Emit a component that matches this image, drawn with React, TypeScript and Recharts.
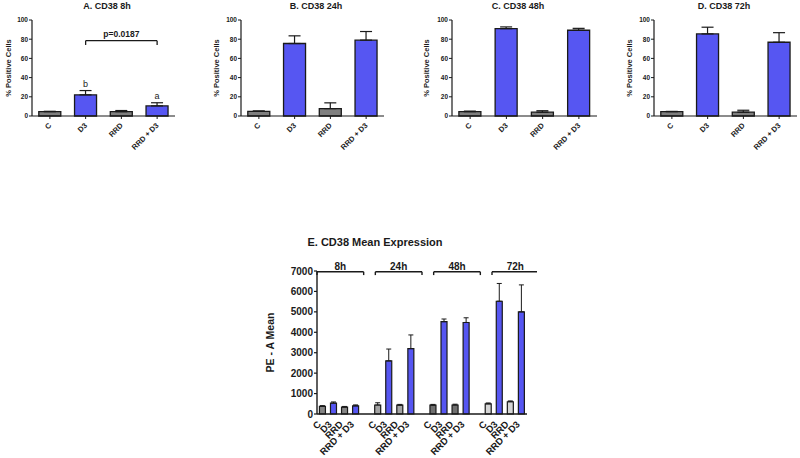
import React from 'react';
import { BarChart, Bar, XAxis, YAxis, ErrorBar, Cell, ReferenceLine, ReferenceDot } from 'recharts';

// ---------- Data ----------
const treatments = ['C', 'D3', 'RRD', 'RRD + D3'];

const pct8h = [4.5, 22, 4.5, 10.5];
const pct8hErr = [0.4, 4.5, 1.2, 3.3];
const pct24h = [4.8, 75.5, 7.7, 79];
const pct24hErr = [0.5, 8, 6, 9];
const pct48h = [4.5, 91, 4, 89.3];
const pct48hErr = [0.6, 1.8, 1.5, 2];
const pct72h = [4.5, 85.5, 4, 76.8];
const pct72hErr = [0.3, 7, 2, 10];

const annot8h = ['', 'b', '', 'a'];
const pValue8h = 'p=0.0187';
const bracket8hY = 78.5;

const pctTicks = [0, 20, 40, 60, 80, 100];

const timePoints = ['8h', '24h', '48h', '72h'];
const meanExpr = [
  [370, 530, 340, 400],
  [440, 2600, 430, 3200],
  [430, 4520, 440, 4480],
  [500, 5520, 600, 5000],
];
const meanExprErr = [
  [40, 60, 30, 45],
  [110, 580, 40, 670],
  [40, 130, 40, 230],
  [40, 870, 40, 1320],
];
const meanTicks = [0, 1000, 2000, 3000, 4000, 5000, 6000, 7000];

// ---------- Styles ----------
const FONT = '"Liberation Sans", Arial, Helvetica, sans-serif';
const BLUE = '#5656f2';
const GRAY = '#7f7f7f';
const groupGrays = ['#858585', '#a4a4a4', '#707070', '#d6d6d6'];
const INK = '#1a1a1a';

const makePctData = (vals: number[], errs: number[]) =>
  treatments.map((t, i) => ({ name: t, value: vals[i], err: [0, errs[i]] }));

const RotTick = (props: any) => {
  const { x, y, payload, fs, dx, dy } = props;
  const tx = x + dx;
  const ty = y + dy;
  return (
    <text
      x={tx}
      y={ty}
      transform={`rotate(-45 ${tx} ${ty})`}
      textAnchor="end"
      fontSize={fs}
      fontWeight="bold"
      fontFamily={FONT}
      fill={INK}
    >
      {payload.value}
    </text>
  );
};

const yLabel = (text: string, fromLeft: number, fs: number) => ({
  content: (p: any) => {
    const vb = p.viewBox || { x: 0, y: 0, width: 0, height: 0 };
    const cx = vb.x + fromLeft;
    const cy = vb.y + vb.height / 2;
    return (
      <text
        x={cx}
        y={cy}
        transform={`rotate(-90 ${cx} ${cy})`}
        textAnchor="middle"
        dominantBaseline="central"
        fontSize={fs}
        fontWeight="bold"
        fontFamily={FONT}
        fill={INK}
      >
        {text}
      </text>
    );
  },
});

type PctProps = {
  left: number;
  width: number;
  marginLeft: number;
  marginRight: number;
  title: string;
  titleCenter: number;
  vals: number[];
  errs: number[];
  annot?: string[];
  pValue?: string;
  bracketY?: number;
  labelFromLeft: number;
};

const PctChart = (p: PctProps) => {
  const data = makePctData(p.vals, p.errs);
  return (
    <>
      <div
        style={{
          position: 'absolute',
          left: p.titleCenter - 60,
          width: 120,
          top: 1,
          textAlign: 'center',
          fontFamily: FONT,
          fontWeight: 'bold',
          fontSize: 9,
          lineHeight: '11px',
          color: INK,
        }}
      >
        {p.title}
      </div>
      <div style={{ position: 'absolute', left: p.left, top: 0 }}>
        <BarChart
          width={p.width}
          height={156}
          data={data}
          margin={{ top: 20, right: p.marginRight, bottom: 4, left: p.marginLeft }}
          barCategoryGap="19%"
        >
          <YAxis
            width={22}
            domain={[0, 100]}
            ticks={pctTicks}
            interval={0}
            tickSize={3}
            tickMargin={1}
            axisLine={{ stroke: INK, strokeWidth: 1.2 }}
            tickLine={{ stroke: INK, strokeWidth: 1 }}
            tick={{ fontSize: 6.5, fontWeight: 'bold', fill: INK, fontFamily: FONT }}
            label={yLabel('% Positive Cells', p.labelFromLeft, 7.5)}
          />
          <XAxis
            dataKey="name"
            height={36}
            interval={0}
            tickSize={3}
            axisLine={{ stroke: INK, strokeWidth: 1.2 }}
            tickLine={{ stroke: INK, strokeWidth: 1 }}
            tick={(tp: any) => <RotTick {...tp} fs={7.5} dx={2} dy={5} />}
          />
          <Bar dataKey="value" isAnimationActive={false} stroke={INK} strokeWidth={1.3}>
            {data.map((d, i) => (
              <Cell key={d.name} fill={i % 2 === 1 ? BLUE : GRAY} />
            ))}
            <ErrorBar dataKey="err" direction="y" width={6} stroke={INK} strokeWidth={1.2} />
          </Bar>
          {p.pValue && p.bracketY !== undefined && (
            <ReferenceLine
              segment={[
                { x: treatments[1], y: p.bracketY },
                { x: treatments[3], y: p.bracketY },
              ]}
              stroke={INK}
              strokeWidth={1.3}
              label={{
                value: p.pValue,
                position: 'top',
                offset: 4,
                fontSize: 8.5,
                fontWeight: 'bold',
                fill: INK,
                fontFamily: FONT,
              }}
            />
          )}
          {p.pValue && p.bracketY !== undefined && (
            <ReferenceLine
              segment={[
                { x: treatments[1], y: p.bracketY },
                { x: treatments[1], y: p.bracketY - 4.5 },
              ]}
              stroke={INK}
              strokeWidth={1.3}
            />
          )}
          {p.pValue && p.bracketY !== undefined && (
            <ReferenceLine
              segment={[
                { x: treatments[3], y: p.bracketY },
                { x: treatments[3], y: p.bracketY - 4.5 },
              ]}
              stroke={INK}
              strokeWidth={1.3}
            />
          )}
          {p.annot &&
            p.annot.map((a, i) =>
              a ? (
                <ReferenceDot
                  key={'an' + i}
                  x={treatments[i]}
                  y={p.vals[i] + p.errs[i]}
                  r={0}
                  fill="none"
                  stroke="none"
                  label={{
                    value: a,
                    position: 'top',
                    offset: 4,
                    fontSize: 9,
                    fill: INK,
                    fontFamily: FONT,
                  }}
                />
              ) : null
            )}
        </BarChart>
      </div>
    </>
  );
};

// Mean-expression chart data: 4 bars per time point, a blank slot between groups
type MeanRow = { name: string; value: number | null; err: number[] | null; color: string };
const meanData: MeanRow[] = [];
timePoints.forEach((tp, g) => {
  treatments.forEach((t, i) => {
    meanData.push({
      name: t,
      value: meanExpr[g][i],
      err: [0, meanExprErr[g][i]],
      color: i % 2 === 1 ? BLUE : groupGrays[g],
    });
  });
  if (g < timePoints.length - 1) meanData.push({ name: '', value: null, err: null, color: 'none' });
});

const MeanChart = () => (
  <>
    <div
      style={{
        position: 'absolute',
        left: 255,
        width: 240,
        top: 235,
        textAlign: 'center',
        fontFamily: FONT,
        fontWeight: 'bold',
        fontSize: 11,
        lineHeight: '14px',
        color: INK,
      }}
    >
      E. CD38 Mean Expression
    </div>
    <div style={{ position: 'absolute', left: 250, top: 240 }}>
      <BarChart
        width={287}
        height={218}
        data={meanData}
        margin={{ top: 31, right: 10, bottom: 4, left: 27 }}
        barCategoryGap="22%"
      >
        <YAxis
          width={40}
          domain={[0, 7000]}
          ticks={meanTicks}
          interval={0}
          tickSize={3}
          tickMargin={1}
          axisLine={{ stroke: INK, strokeWidth: 1.4 }}
          tickLine={{ stroke: INK, strokeWidth: 1.2 }}
          tick={{ fontSize: 10, fontWeight: 'bold', fill: INK, fontFamily: FONT }}
          label={yLabel('PE - A Mean', -7, 10.5)}
        />
        <XAxis
          dataKey="name"
          height={40}
          interval={0}
          tickLine={false}
          axisLine={{ stroke: INK, strokeWidth: 1.4 }}
          tick={(tp: any) => <RotTick {...tp} fs={9.5} dx={-1} dy={3} />}
        />
        <XAxis xAxisId="num" type="number" domain={[0, meanData.length]} hide />
        <Bar dataKey="value" isAnimationActive={false} stroke={INK} strokeWidth={1.2}>
          {meanData.map((d, i) => (
            <Cell key={'c' + i} fill={d.color} />
          ))}
          <ErrorBar dataKey="err" direction="y" width={2.5} stroke={INK} strokeWidth={1} />
        </Bar>
        {timePoints.map((tp, g) => (
          <ReferenceLine
            key={'br' + tp}
            xAxisId="num"
            segment={[
              { x: g * 5, y: 6960 },
              { x: g * 5 + 4, y: 6960 },
            ]}
            stroke={INK}
            strokeWidth={1.4}
            ifOverflow="visible"
            label={{
              value: tp,
              position: 'top',
              offset: 2,
              fontSize: 10,
              fontWeight: 'bold',
              fill: INK,
              fontFamily: FONT,
            }}
          />
        ))}
        {timePoints.map((tp, g) => (
          <ReferenceLine
            key={'bl' + tp}
            xAxisId="num"
            segment={[
              { x: g * 5, y: 6960 },
              { x: g * 5, y: 6800 },
            ]}
            stroke={INK}
            strokeWidth={1.4}
          />
        ))}
        {timePoints.map((tp, g) => (
          <ReferenceLine
            key={'brr' + tp}
            xAxisId="num"
            segment={[
              { x: g * 5 + 4, y: 6960 },
              { x: g * 5 + 4, y: 6800 },
            ]}
            stroke={INK}
            strokeWidth={1.4}
          />
        ))}
      </BarChart>
    </div>
  </>
);

export default function App() {
  return (
    <div
      style={{
        position: 'absolute',
        left: 0,
        top: 0,
        width: 800,
        height: 458,
        overflow: 'hidden',
        background: '#fff',
      }}
    >
      <PctChart
        left={0}
        width={190}
        marginLeft={10}
        marginRight={15}
        title="A. CD38 8h"
        titleCenter={107}
        vals={pct8h}
        errs={pct8hErr}
        annot={annot8h}
        pValue={pValue8h}
        bracketY={bracket8hY}
        labelFromLeft={-2}
      />
      <PctChart
        left={209}
        width={190}
        marginLeft={10}
        marginRight={15}
        title="B. CD38 24h"
        titleCenter={316}
        vals={pct24h}
        errs={pct24hErr}
        labelFromLeft={-3}
      />
      <PctChart
        left={420}
        width={192}
        marginLeft={10}
        marginRight={15}
        title="C. CD38 48h"
        titleCenter={518}
        vals={pct48h}
        errs={pct48hErr}
        labelFromLeft={-4}
      />
      <PctChart
        left={622}
        width={178}
        marginLeft={10}
        marginRight={3}
        title="D. CD38 72h"
        titleCenter={724}
        vals={pct72h}
        errs={pct72hErr}
        labelFromLeft={-3}
      />
      <MeanChart />
    </div>
  );
}
